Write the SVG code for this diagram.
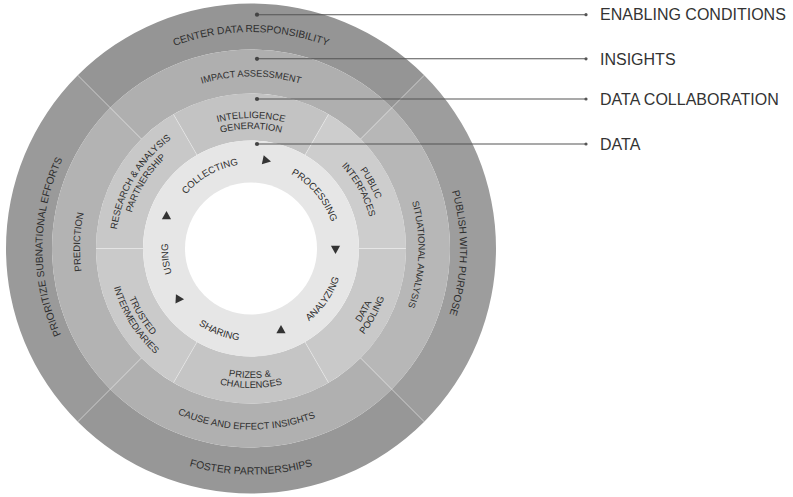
<svg xmlns="http://www.w3.org/2000/svg" width="793" height="497" viewBox="0 0 793 497">
<style>
.t{font-family:"Liberation Sans",Arial,sans-serif;fill:#2e2e2e;}
.o{font-size:10.2px;}
.i{font-size:9.3px;}
.c{font-size:9.4px;}
.d{font-size:9.6px;}
.lg{font-family:"Liberation Sans",Arial,sans-serif;font-size:16px;fill:#333;}
.div{stroke:#ffffff;stroke-opacity:0.35;stroke-width:1;fill:none;}
.ln{stroke:#555;stroke-width:1.1;fill:none;}
.tri{fill:#333;}
</style>
<defs>
<path id="pO1" d="M37.79,210.90 A216.5,216.5 0 0 1 464.21,210.90"/>
<path id="pO2" d="M213.00,453.51 A208.5,208.5 0 0 1 216.59,42.86"/>
<path id="pO3" d="M291.77,43.51 A209,209 0 0 1 282.79,455.07"/>
<path id="pO4" d="M28.43,287.74 A226,226 0 0 0 473.57,287.74"/>
<path id="pI1" d="M81.61,218.63 A172,172 0 0 1 420.39,218.63"/>
<path id="pI2" d="M214.86,415.64 A171,171 0 0 1 227.79,79.08"/>
<path id="pI3" d="M286.11,84.72 A167.5,167.5 0 0 1 274.02,414.41"/>
<path id="pI4" d="M71.99,275.25 A181,181 0 0 0 428.37,284.59"/>
<path id="pD1a" d="M122.48,225.84 A130.5,130.5 0 0 1 379.52,225.84"/>
<path id="pD1b" d="M133.31,227.75 A119.5,119.5 0 0 1 368.69,227.75"/>
<path id="pD2a" d="M162.10,350.77 A135.5,135.5 0 0 1 299.56,122.00"/>
<path id="pD2b" d="M168.01,341.32 A124.5,124.5 0 0 1 297.23,132.90"/>
<path id="pD3a" d="M207.88,121.10 A134.5,134.5 0 0 1 335.09,353.47"/>
<path id="pD3b" d="M211.93,132.39 A122.5,122.5 0 0 1 327.43,344.24"/>
<path id="pD4a" d="M207.80,373.24 A132,132 0 0 0 334.27,146.09"/>
<path id="pD4b" d="M205.47,383.00 A142,142 0 0 0 339.78,137.68"/>
<path id="pD5a" d="M123.28,269.87 A129.5,129.5 0 0 0 378.33,272.10"/>
<path id="pD5b" d="M113.62,272.72 A139.5,139.5 0 0 0 388.38,272.72"/>
<path id="pD6a" d="M163.52,150.31 A131.5,131.5 0 0 0 299.63,370.69"/>
<path id="pD6b" d="M156.02,142.27 A142.5,142.5 0 0 0 303.92,380.81"/>
<path id="pR1" d="M171.35,276.71 A84.5,84.5 0 0 1 316.20,194.75"/>
<path id="pR2" d="M208.75,175.32 A84.5,84.5 0 0 1 315.73,302.82"/>
<path id="pR3" d="M211.70,332.79 A93,93 0 0 0 316.76,182.74"/>
<path id="pR4" d="M160.20,230.85 A92.5,92.5 0 0 0 330.29,296.14"/>
<path id="pR5" d="M246.66,331.39 A83,83 0 0 1 226.73,169.13"/>
<path id="tri" d="M-3.8,-4.6 L4.6,0 L-3.8,4.6 Z"/>
</defs>

<!-- Enabling conditions ring -->
<g id="center-data-responsibility">
<path fill="#959595" d="M424.24,75.26 A245,245 0 0 0 77.76,75.26 L110.29,107.79 A199,199 0 0 1 391.71,107.79 Z"/>
<text class="t o"><textPath href="#pO1" startOffset="50%" text-anchor="middle">CENTER DATA RESPONSIBILITY</textPath></text>
</g>
<g id="prioritize-subnational-efforts">
<path fill="#9a9a9a" d="M77.76,75.26 A245,245 0 0 0 77.76,421.74 L110.29,389.21 A199,199 0 0 1 110.29,107.79 Z"/>
<text class="t o"><textPath href="#pO2" startOffset="50%" text-anchor="middle">PRIORITIZE SUBNATIONAL EFFORTS</textPath></text>
</g>
<g id="foster-partnerships">
<path fill="#979797" d="M77.76,421.74 A245,245 0 0 0 424.24,421.74 L391.71,389.21 A199,199 0 0 1 110.29,389.21 Z"/>
<text class="t o" style="font-size:10.4px"><textPath href="#pO4" startOffset="50%" text-anchor="middle">FOSTER PARTNERSHIPS</textPath></text>
</g>
<g id="publish-with-purpose">
<path fill="#9d9d9d" d="M424.24,421.74 A245,245 0 0 0 424.24,75.26 L391.71,107.79 A199,199 0 0 1 391.71,389.21 Z"/>
<text class="t o"><textPath href="#pO3" startOffset="50%" text-anchor="middle">PUBLISH WITH PURPOSE</textPath></text>
</g>

<!-- Insights ring -->
<g id="impact-assessment">
<path fill="#afafaf" d="M391.71,107.79 A199,199 0 0 0 110.29,107.79 L141.40,138.90 A155,155 0 0 1 360.60,138.90 Z"/>
<text class="t i"><textPath href="#pI1" startOffset="50%" text-anchor="middle">IMPACT ASSESSMENT</textPath></text>
</g>
<g id="prediction">
<path fill="#b3b3b3" d="M110.29,107.79 A199,199 0 0 0 110.29,389.21 L141.40,358.10 A155,155 0 0 1 141.40,138.90 Z"/>
<text class="t i" style="font-size:9.5px"><textPath href="#pI2" startOffset="50%" text-anchor="middle">PREDICTION</textPath></text>
</g>
<g id="cause-and-effect-insights">
<path fill="#b0b0b0" d="M110.29,389.21 A199,199 0 0 0 391.71,389.21 L360.60,358.10 A155,155 0 0 1 141.40,358.10 Z"/>
<text class="t i" style="font-size:9.5px"><textPath href="#pI4" startOffset="50%" text-anchor="middle">CAUSE AND EFFECT INSIGHTS</textPath></text>
</g>
<g id="situational-analysis">
<path fill="#b7b7b7" d="M391.71,389.21 A199,199 0 0 0 391.71,107.79 L360.60,138.90 A155,155 0 0 1 360.60,358.10 Z"/>
<text class="t i"><textPath href="#pI3" startOffset="50%" text-anchor="middle">SITUATIONAL ANALYSIS</textPath></text>
</g>

<!-- Data collaboration ring -->
<g id="intelligence-generation">
<path fill="#c3c3c3" d="M328.5,114.27 A155,155 0 0 0 173.5,114.27 L197,154.97 A108,108 0 0 1 305,154.97 Z"/>
<text class="t c"><textPath href="#pD1a" startOffset="50%" text-anchor="middle">INTELLIGENCE</textPath></text>
<text class="t c"><textPath href="#pD1b" startOffset="50%" text-anchor="middle">GENERATION</textPath></text>
</g>
<g id="research-analysis-partnership">
<path fill="#c8c8c8" d="M173.5,114.27 A155,155 0 0 0 96,248.5 L143,248.5 A108,108 0 0 1 197,154.97 Z"/>
<text class="t c"><textPath href="#pD2a" startOffset="50%" text-anchor="middle">RESEARCH &amp; ANALYSIS</textPath></text>
<text class="t c"><textPath href="#pD2b" startOffset="50%" text-anchor="middle">PARTNERSHIP</textPath></text>
</g>
<g id="trusted-intermediaries">
<path fill="#cacaca" d="M96,248.5 A155,155 0 0 0 173.5,382.73 L197,342.03 A108,108 0 0 1 143,248.5 Z"/>
<text class="t c"><textPath href="#pD6a" startOffset="50%" text-anchor="middle">TRUSTED</textPath></text>
<text class="t c"><textPath href="#pD6b" startOffset="50%" text-anchor="middle">INTERMEDIARIES</textPath></text>
</g>
<g id="prizes-challenges">
<path fill="#c5c5c5" d="M173.5,382.73 A155,155 0 0 0 328.5,382.73 L305,342.03 A108,108 0 0 1 197,342.03 Z"/>
<text class="t c"><textPath href="#pD5a" startOffset="50%" text-anchor="middle">PRIZES &amp;</textPath></text>
<text class="t c"><textPath href="#pD5b" startOffset="50%" text-anchor="middle">CHALLENGES</textPath></text>
</g>
<g id="data-pooling">
<path fill="#c9c9c9" d="M328.5,382.73 A155,155 0 0 0 406,248.5 L359,248.5 A108,108 0 0 1 305,342.03 Z"/>
<text class="t c"><textPath href="#pD4a" startOffset="50%" text-anchor="middle">DATA</textPath></text>
<text class="t c"><textPath href="#pD4b" startOffset="50%" text-anchor="middle">POOLING</textPath></text>
</g>
<g id="public-interfaces">
<path fill="#cdcdcd" d="M406,248.5 A155,155 0 0 0 328.5,114.27 L305,154.97 A108,108 0 0 1 359,248.5 Z"/>
<text class="t c"><textPath href="#pD3a" startOffset="50%" text-anchor="middle">PUBLIC</textPath></text>
<text class="t c"><textPath href="#pD3b" startOffset="50%" text-anchor="middle">INTERFACES</textPath></text>
</g>

<!-- dividers -->
<g id="dividers" class="div">
<line x1="360.60" y1="138.90" x2="424.24" y2="75.26"/>
<line x1="141.40" y1="138.90" x2="77.76" y2="75.26"/>
<line x1="141.40" y1="358.10" x2="77.76" y2="421.74"/>
<line x1="360.60" y1="358.10" x2="424.24" y2="421.74"/>
<line x1="359" y1="248.5" x2="406" y2="248.5"/>
<line x1="305" y1="154.97" x2="328.5" y2="114.27"/>
<line x1="197" y1="154.97" x2="173.5" y2="114.27"/>
<line x1="143" y1="248.5" x2="96" y2="248.5"/>
<line x1="197" y1="342.03" x2="173.5" y2="382.73"/>
<line x1="305" y1="342.03" x2="328.5" y2="382.73"/>
</g>

<!-- Data ring -->
<g id="data-cycle">
<circle cx="251" cy="248.5" r="108" fill="#e6e6e6"/>
<circle cx="251" cy="248.5" r="66" fill="#ffffff"/>
<text class="t d"><textPath href="#pR1" startOffset="50%" text-anchor="middle">COLLECTING</textPath></text>
<text class="t d"><textPath href="#pR2" startOffset="50%" text-anchor="middle">PROCESSING</textPath></text>
<text class="t d"><textPath href="#pR3" startOffset="50%" text-anchor="middle">ANALYZING</textPath></text>
<text class="t d"><textPath href="#pR4" startOffset="50%" text-anchor="middle">SHARING</textPath></text>
<text class="t d"><textPath href="#pR5" startOffset="50%" text-anchor="middle">USING</textPath></text>
<use href="#tri" class="tri" transform="translate(266.5,160.5) rotate(12)"/>
<use href="#tri" class="tri" transform="translate(335.5,249.5) rotate(90)"/>
<use href="#tri" class="tri" transform="translate(281,329.5) rotate(-90)"/>
<use href="#tri" class="tri" transform="translate(179.5,299) rotate(3)"/>
<use href="#tri" class="tri" transform="translate(166.5,215.5) rotate(-90)"/>
</g>

<!-- Connectors -->
<g id="connectors">
<line class="ln" x1="257" y1="14.7" x2="586" y2="14.7"/>
<line class="ln" x1="257" y1="58.8" x2="586" y2="58.8"/>
<line class="ln" x1="257" y1="99" x2="586" y2="99"/>
<line class="ln" x1="257" y1="144" x2="586" y2="144"/>
<circle cx="257" cy="14.7" r="2.1" fill="#444"/>
<circle cx="257" cy="58.8" r="2.1" fill="#444"/>
<circle cx="257" cy="99" r="2.1" fill="#444"/>
<circle cx="257" cy="144" r="2.1" fill="#444"/>
<circle cx="586" cy="14.7" r="1.6" fill="#555"/>
<circle cx="586" cy="58.8" r="1.6" fill="#555"/>
<circle cx="586" cy="99" r="1.6" fill="#555"/>
<circle cx="586" cy="144" r="1.6" fill="#555"/>
</g>

<!-- Legend labels -->
<g id="legend-enabling-conditions"><text class="lg" x="600" y="20.4">ENABLING CONDITIONS</text></g>
<g id="legend-insights"><text class="lg" x="600" y="64.6">INSIGHTS</text></g>
<g id="legend-data-collaboration"><text class="lg" x="600" y="104.6">DATA COLLABORATION</text></g>
<g id="legend-data"><text class="lg" x="600" y="149.6">DATA</text></g>
</svg>
